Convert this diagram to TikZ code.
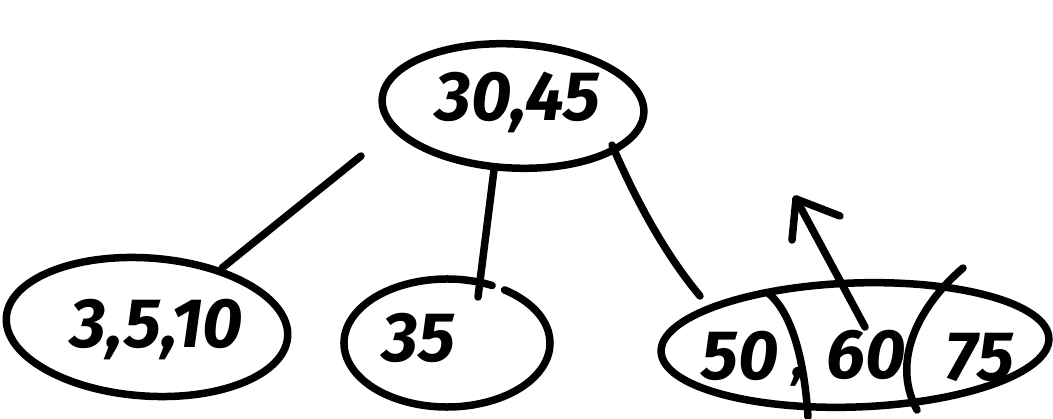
\documentclass[tikz,border=0pt]{standalone}
\usepackage{fontspec}
\setmainfont{Fira Sans}
\usetikzlibrary{shapes.geometric,arrows.meta}
\tikzset{
  ink/.style={line width=7.5pt, line cap=round, line join=round, black},
  keynode/.style={ellipse, draw, line width=7.5pt, inner sep=0pt},
  keytext/.style={font=\fontsize{70}{78}\selectfont\bfseries\itshape, inner sep=0pt},
}
\begin{document}
\begin{tikzpicture}[x=1pt,y=-1pt]
\useasboundingbox (0,0) rectangle (1053,419);
% nodes
\node[keynode, minimum width=262pt, minimum height=124pt, rotate=-3] (root) at (513,106) {};
\node[keytext] (rootT) at (518,102) {30,45};
\node[keynode, minimum width=282pt, minimum height=138pt, rotate=-4] (left) at (147,327) {};
\node[keytext] (leftT) at (157,330) {3,5,10};
% middle node, drawn with a small break at the top right
\node[ellipse, minimum width=206pt, minimum height=128pt, inner sep=0pt] (mid) at (447,343) {};
\draw[ink] ([shift={(64:103pt and 64pt)}]mid.center) arc[start angle=64, end angle=416, x radius=103pt, y radius=64pt];
\node[keytext] (midT) at (419,338) {35};
\node[keynode, minimum width=388pt, minimum height=124pt, rotate=2] (right) at (855,345) {};
\node[keytext] (r50) at (740,356) {50};
\node[keytext] (r60) at (866,355) {60};
\node[keytext] (r75) at (980,357) {75};
\node[keytext, font=\fontsize{56}{60}\selectfont\bfseries\itshape] (rc) at (799,377) {,};
% dividers in right node
\coordinate (d1a) at (768,293);
\coordinate (d1b) at (808,417);
\coordinate (d2a) at (963,268);
\coordinate (d2b) at (917,410);
\draw[ink] (d1a) .. controls (795,315) and (805,370) .. (d1b);
\draw[ink] (d2a) .. controls (920,305) and (890,360) .. (d2b);
% connectors
\coordinate (cl1) at (361,156);
\coordinate (cl2) at (222,268);
\coordinate (cm1) at (494,170);
\coordinate (cm2) at (478,297);
\coordinate (cr1) at (612,145);
\coordinate (cr2) at (700,296);
\draw[ink] (cl1) -- (cl2);
\draw[ink] (cm1) -- (cm2);
\draw[ink] (cr1) .. controls (640,210) and (670,260) .. (cr2);
% arrow
\coordinate (a1) at (865,327);
\coordinate (a2) at (796,199);
\coordinate (ah1) at (792,240);
\coordinate (ah2) at (840,216);
\draw[ink] (a1) -- (a2);
\draw[ink] (ah1) -- (a2) -- (ah2);
\end{tikzpicture}
\end{document}
